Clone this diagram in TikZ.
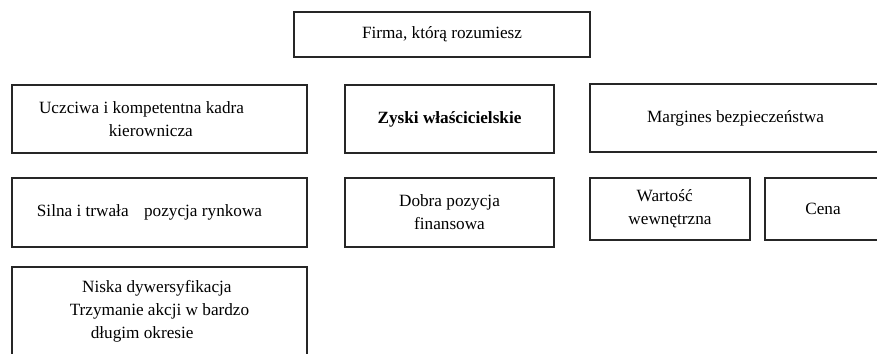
\documentclass[tikz,border=0pt]{standalone}
\usepackage{fontspec}
\setmainfont{Liberation Serif}
\begin{document}
\begin{tikzpicture}[x=0.75pt,y=-0.75pt,
  box/.style={draw=black!85, line width=0.9pt, rectangle, inner sep=0pt, outer sep=0pt,
    align=center, font=\fontsize{12.9}{17.2}\selectfont},
  size/.style 2 args={minimum width=#1*0.75pt, minimum height=#2*0.75pt},
  boldbox/.style={box, font=\fontsize{12.9}{17.2}\selectfont\bfseries}]
\useasboundingbox (0,0) rectangle (877,353);
\clip (0,0) rectangle (877,353);
% top level
\node[box, size={296}{45}] (firma) at (442,34.5) {Firma, którą rozumiesz};
% second row
\node[box, size={295}{68}] (kadra) at (159.5,119)
  {Uczciwa i kompetentna kadra\hspace*{27pt}\\ kierownicza\hspace*{13pt}};
\node[boldbox, size={209}{68}] (zyski) at (449.5,119) {Zyski właścicielskie};
\node[box, size={291}{68}] (margines) at (735.5,118) {Margines bezpieczeństwa};
% third row
\node[box, size={295}{69}] (pozycja) at (159.5,212.5)
  {Silna i trwała\hspace{0.9em}pozycja rynkowa\hspace*{15pt}};
\node[box, size={209}{69}] (finanse) at (449.5,212.5) {Dobra pozycja\\ finansowa};
\node[box, size={160}{62}] (wartosc) at (670,209) {Wartość\hspace*{8pt}\\ wewnętrzna};
\node[box, size={116}{62}] (cena) at (823,209) {Cena};
% fourth row
\node[box, size={295}{88}] (dywers) at (159.5,311)
  {Niska dywersyfikacja\hspace*{4pt}\\ Trzymanie akcji w bardzo\hspace*{12pt}\\ długim okresie\hspace*{26pt}};
\end{tikzpicture}
\end{document}
